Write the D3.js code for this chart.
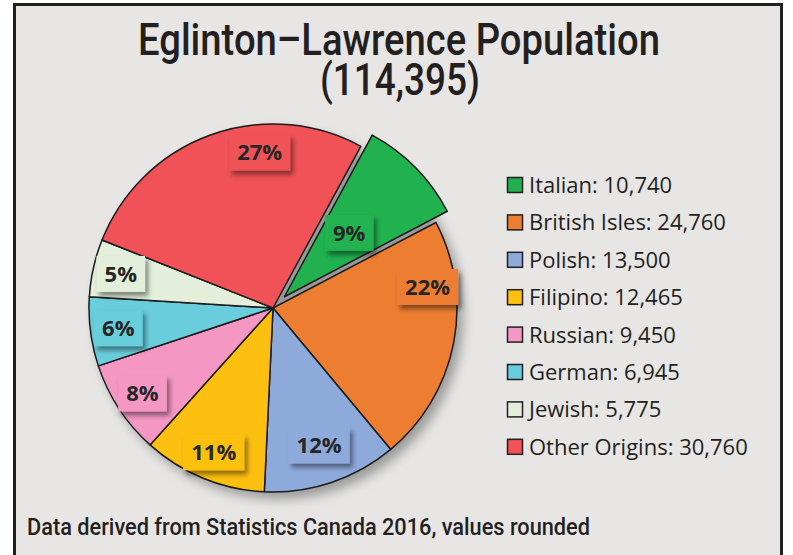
<!DOCTYPE html>
<html><head><meta charset="utf-8">
<script src="https://cdn.jsdelivr.net/npm/d3@7"></script>
<style>html,body{margin:0;padding:0;background:#fff;} svg{display:block}</style>
</head><body>
<svg id="chart" width="793" height="555"></svg>
<script>
// ---- data ----
const categories = ["Italian","British Isles","Polish","Filipino","Russian","German","Jewish","Other Origins"];
const populations = [10740,24760,13500,12465,9450,6945,5775,30760];
const sliceColors = ["#21b24f","#ed7d31","#8eaadb","#fdc010","#f498c3","#69cddc","#e3efda","#f05257"];
const titleLines = ["Eglinton\u2013Lawrence Population","(114,395)"];
const footnote = "Data derived from Statistics Canada 2016, values rounded";

// ---- layout ----
const W = 793, H = 555;
const cx = 273, cy = 308, R = 184;
const startDeg = 28.5;
const explode = {"Italian": 16};
const labelPlace = {"Other Origins": {shift: 15}, "British Isles": {shift: -19}, "Italian": {r: 91}, "Polish": {r: 145}};
const condensed = "Roboto,'Noto Sans',sans-serif";
const body = "'Open Sans','Noto Sans',sans-serif";

const svg = d3.select("#chart");
const defs = svg.append("defs");
const pieShadow = defs.append("filter").attr("id","pieShadow")
  .attr("x","-20%").attr("y","-20%").attr("width","140%").attr("height","140%");
pieShadow.append("feGaussianBlur").attr("stdDeviation",6);
const lblShadow = defs.append("filter").attr("id","lblShadow")
  .attr("x","-30%").attr("y","-40%").attr("width","170%").attr("height","190%");
lblShadow.append("feDropShadow").attr("dx",3).attr("dy",4).attr("stdDeviation",2.5)
  .attr("flood-color","#000").attr("flood-opacity",0.45);

svg.append("rect").attr("width",W).attr("height",H).attr("fill","#fff");
svg.append("rect").attr("x",14.5).attr("y",4.5).attr("width",767).attr("height",H+20)
  .attr("fill","#e7e6e5").attr("stroke","#231f20").attr("stroke-width",3);

// title
svg.append("text").attr("x",399).attr("y",55).attr("text-anchor","middle")
  .attr("font-family",condensed).attr("font-weight",500).attr("font-size",44)
  .attr("fill","#231f20").attr("textLength",522).attr("lengthAdjust","spacingAndGlyphs")
  .text(titleLines[0]);
svg.append("text").attr("x",400).attr("y",95).attr("text-anchor","middle")
  .attr("font-family",condensed).attr("font-weight",500).attr("font-size",44)
  .attr("fill","#231f20").attr("textLength",160).attr("lengthAdjust","spacingAndGlyphs")
  .text(titleLines[1]);

// pie
const data = categories.map((c,i)=>({name:c, value:populations[i], color:sliceColors[i]}));
const total = d3.sum(populations);
const a0 = startDeg*Math.PI/180;
const pie = d3.pie().sort(null).value(d=>d.value).startAngle(a0).endAngle(a0+2*Math.PI);
const arcs = pie(data);
const arc = d3.arc().innerRadius(0).outerRadius(R);
function offset(d){
  const e = explode[d.data.name]||0, a=(d.startAngle+d.endAngle)/2;
  return [e*Math.sin(a), -e*Math.cos(a)];
}
const g = svg.append("g").attr("transform",`translate(${cx},${cy})`);
g.append("circle").attr("cx",6).attr("cy",7).attr("r",R).attr("fill","#999")
  .attr("filter","url(#pieShadow)");
g.selectAll("path.slice").data(arcs).join("path").attr("class","slice")
  .attr("transform",d=>`translate(${offset(d)})`)
  .attr("d",arc).attr("fill",d=>d.data.color)
  .attr("stroke","#1a1a1a").attr("stroke-width",1.5).attr("stroke-linejoin","round");

// labels
const pct = d3.format(".0%");
const lbl = g.selectAll("g.lbl").data(arcs).join("g").attr("class","lbl")
  .attr("transform",d=>{
    const p = labelPlace[d.data.name]||{};
    const a = (d.startAngle+d.endAngle)/2 + (p.shift||0)*Math.PI/180;
    const r = p.r||156;
    const o = offset(d);
    return `translate(${o[0]+r*Math.sin(a)},${o[1]-r*Math.cos(a)})`;
  });
lbl.append("rect").attr("fill",d=>d.data.color).attr("filter","url(#lblShadow)");
const texts = lbl.append("text").attr("text-anchor","middle").attr("dy","0.36em")
  .attr("font-family",body).attr("font-weight","bold").attr("font-size",22).attr("fill","#262626")
  .text(d=>pct(d.value/total));
texts.each(function(){
  const b=this.getBBox();
  d3.select(this.parentNode).select("rect")
    .attr("x",-b.width/2-8).attr("y",-18).attr("width",b.width+16).attr("height",36);
});

// legend
const lg = svg.append("g").selectAll("g").data(data).join("g")
  .attr("transform",(d,i)=>`translate(507.5,${185+i*37.4})`);
lg.append("rect").attr("x",0).attr("y",-7.5).attr("width",15).attr("height",15)
  .attr("fill",d=>d.color).attr("stroke","#231f20").attr("stroke-width",1.5);
lg.append("text").attr("x",21.5).attr("y",8).attr("font-family",body).attr("font-size",22)
  .attr("fill","#231f20").text(d=>`${d.name}: ${d3.format(",")(d.value)}`);

// footnote
svg.append("text").attr("x",27).attr("y",535)
  .attr("font-family",condensed).attr("font-weight",500).attr("font-size",23)
  .attr("fill","#231f20").attr("textLength",563).attr("lengthAdjust","spacingAndGlyphs")
  .text(footnote);
</script>
</body></html>
